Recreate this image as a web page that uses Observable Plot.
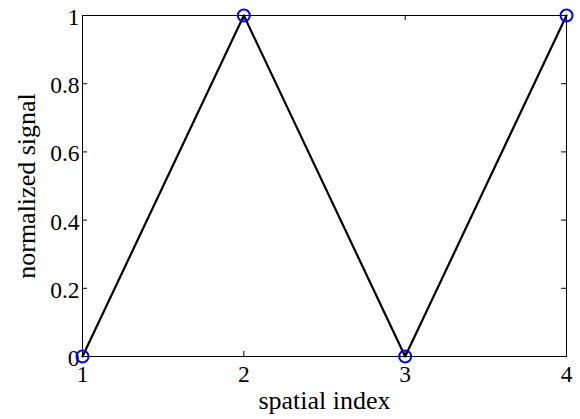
<!DOCTYPE html>
<html>
<head>
<meta charset="utf-8">
<script src="https://cdn.jsdelivr.net/npm/d3@7"></script>
<script src="https://cdn.jsdelivr.net/npm/@observablehq/plot@0.6"></script>
<style>
  html, body { margin: 0; padding: 0; background: #fff; }
  #chart svg { display: block; }
</style>
</head>
<body>
<div id="chart"></div>
<script>
// Normalized signal sampled at four spatial positions
const spatialIndex = [1, 2, 3, 4];
const signal = [0, 1, 0, 1];

// Tick positions and labels
const xTicks = [1, 2, 3, 4];
const yTicks = [0, 0.2, 0.4, 0.6, 0.8, 1];
const yTickLabels = ["0", "0.2", "0.4", "0.6", "0.8", "1"];

const points = spatialIndex.map((x, i) => ({x, y: signal[i]}));

const W = 580, H = 419;
const mL = 82, mR = 14, mT = 15, mB = 63;
const plotW = W - mL - mR, plotH = H - mT - mB;
const tickLen = 5;
const tickFont = 23.5;
const labelFont = 26;

const chart = Plot.plot({
  width: W,
  height: H,
  marginLeft: mL,
  marginRight: mR,
  marginTop: mT,
  marginBottom: mB,
  style: {fontFamily: "'Liberation Serif', 'DejaVu Serif', serif", fontSize: tickFont + "px", color: "#000", background: "#fff"},
  x: {domain: [1, 4]},
  y: {domain: [0, 1]},
  marks: [
    Plot.frame({stroke: "#000", strokeWidth: 1}),
    // inward ticks on all four sides
    Plot.tickY(yTicks, {y: d => d, stroke: "#000", insetRight: plotW - tickLen}),
    Plot.tickY(yTicks, {y: d => d, stroke: "#000", insetLeft: plotW - tickLen}),
    Plot.tickX(xTicks, {x: d => d, stroke: "#000", insetTop: plotH - tickLen}),
    Plot.tickX(xTicks, {x: d => d, stroke: "#000", insetBottom: plotH - tickLen}),
    Plot.axisY({ticks: yTicks, tickSize: 0, tickPadding: 3, dy: 2, tickFormat: d => yTickLabels[yTicks.indexOf(d)], label: null, fontSize: tickFont}),
    Plot.axisX({ticks: xTicks, tickSize: 0, tickPadding: 9, tickFormat: d => String(d), label: null, fontSize: tickFont}),
    Plot.line(points, {x: "x", y: "y", stroke: "#000", strokeWidth: 2.2}),
    Plot.dot(points, {x: "x", y: "y", r: 6, stroke: "#0000ff", strokeWidth: 2, fill: "none"}),
    Plot.text(["spatial index"], {text: d => d, frameAnchor: "bottom", textAnchor: "middle", lineAnchor: "middle", dy: 44.5, fontSize: labelFont, fill: "#000"}),
    Plot.text(["normalized signal"], {text: d => d, frameAnchor: "left", textAnchor: "middle", lineAnchor: "middle", rotate: -90, dx: -55.5, fontSize: labelFont, fill: "#000"})
  ]
});

document.getElementById("chart").appendChild(chart);
</script>
</body>
</html>
